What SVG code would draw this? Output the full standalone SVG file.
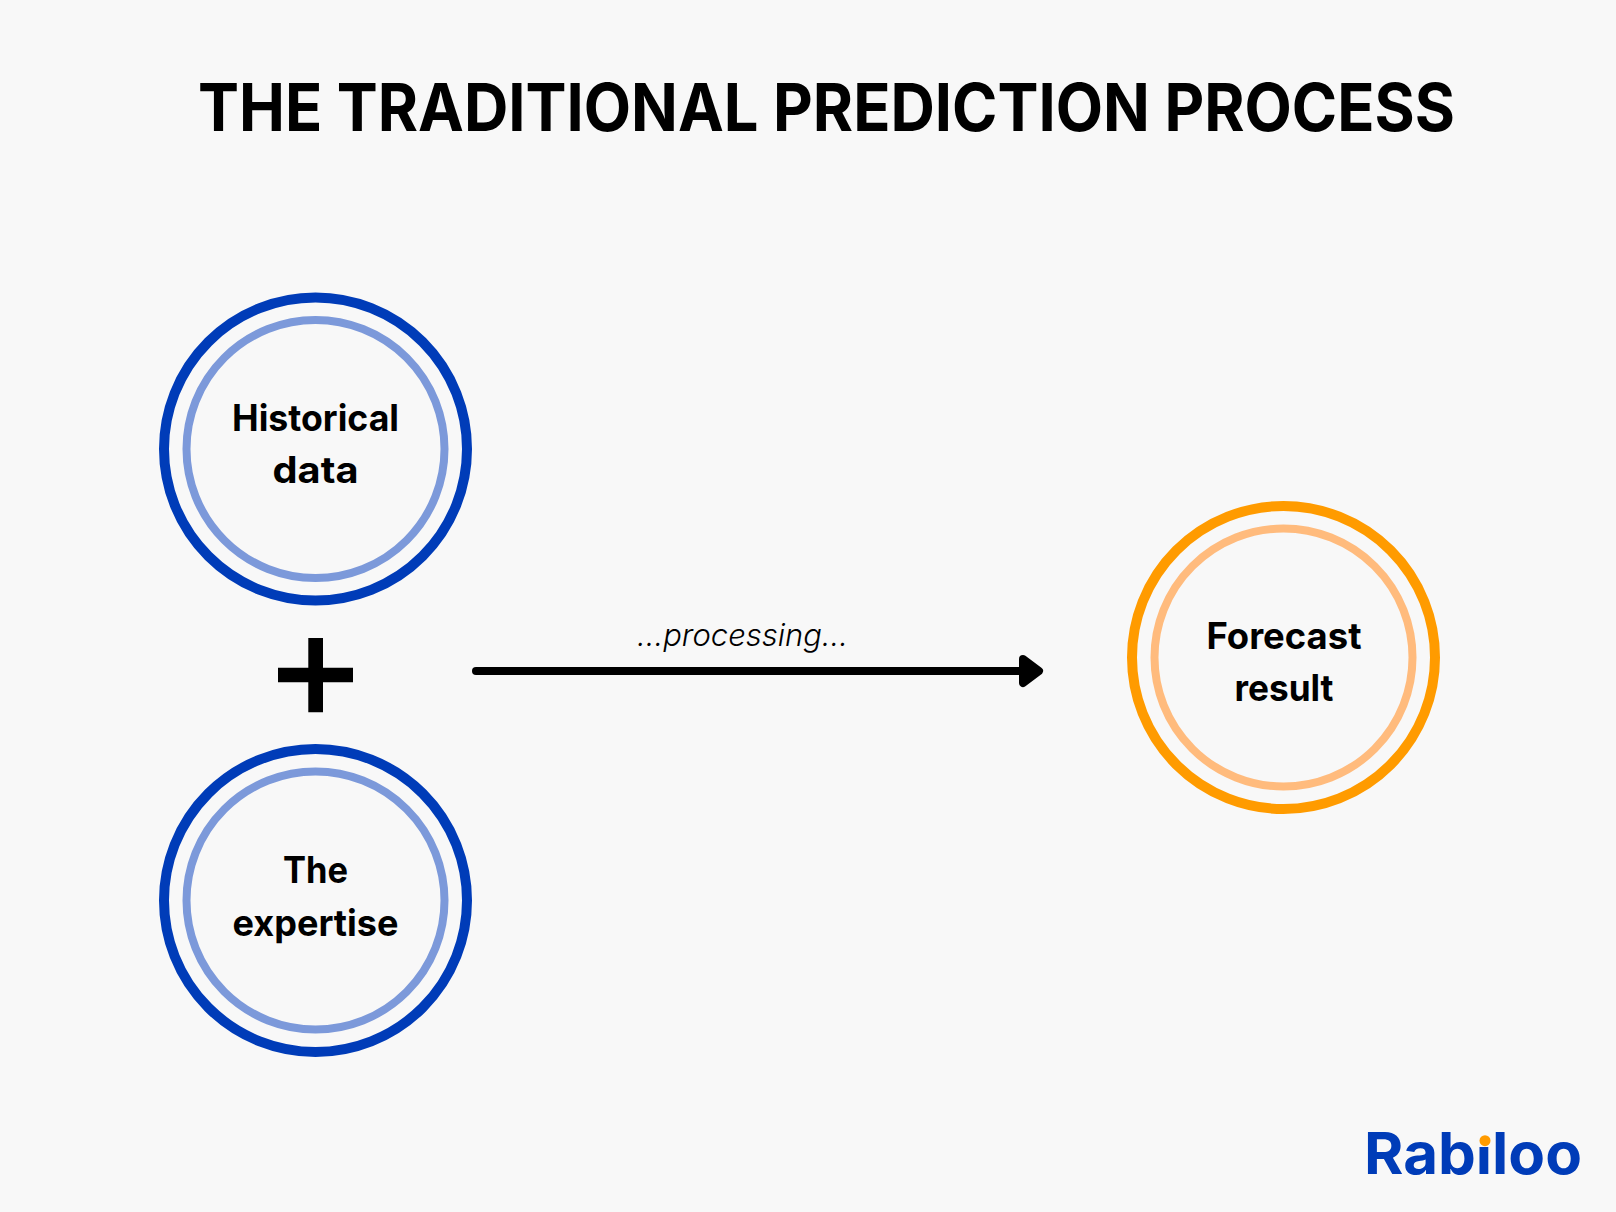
<svg xmlns="http://www.w3.org/2000/svg" width="1616" height="1212" viewBox="0 0 1616 1212">
<style>
text{font-family:"Inter","Liberation Sans",sans-serif;fill:#000;text-anchor:middle}
.t{font-size:37px;font-weight:700}
.o{fill:none;stroke-width:10}
.i{fill:none;stroke-width:8}
.b .o{stroke:#003cb8}.b .i{stroke:#7c99da}
.f .o{stroke:#ff9b00}.f .i{stroke:#ffbb7d}
</style>
<rect width="1616" height="1212" fill="#f8f8f8"/>
<text id="title" x="826.5" y="131" font-size="66" font-weight="700" textLength="1257" lengthAdjust="spacingAndGlyphs">THE TRADITIONAL PREDICTION PROCESS</text>
<g id="historical-data" class="b"><circle class="o" cx="315.5" cy="449" r="151.5"/><circle class="i" cx="315.5" cy="449" r="129"/><text class="t" x="315.5" y="431" textLength="167" lengthAdjust="spacingAndGlyphs">Historical</text><text class="t" x="315.5" y="483" textLength="86" lengthAdjust="spacingAndGlyphs">data</text></g>
<g id="plus"><path d="M308.3 638H323V667.7H353V682.3H323V712.3H308.3V682.3H278V667.7H308.3Z" fill="#000"/></g>
<g id="expertise" class="b"><circle class="o" cx="315.5" cy="900.5" r="151.5"/><circle class="i" cx="315.5" cy="900.5" r="129"/><text class="t" x="315.5" y="883" textLength="65" lengthAdjust="spacingAndGlyphs">The</text><text class="t" x="315.5" y="935.5" textLength="166" lengthAdjust="spacingAndGlyphs">expertise</text></g>
<g id="forecast-result" class="f"><circle class="o" cx="1283.5" cy="657.5" r="151.5"/><circle class="i" cx="1283.5" cy="657.5" r="129"/><text class="t" x="1284" y="648.5" textLength="155" lengthAdjust="spacingAndGlyphs">Forecast</text><text class="t" x="1284" y="701" textLength="99" lengthAdjust="spacingAndGlyphs">result</text></g>
<g id="connectors">
<line x1="476" y1="671" x2="1030" y2="671" stroke="#000" stroke-width="8" stroke-linecap="round"/>
<path d="M1023 659L1039 671L1023 683Z" fill="#000" stroke="#000" stroke-width="8" stroke-linejoin="round"/>
</g>
<text id="edge-label" x="742.5" y="646" font-size="31" font-style="italic" font-weight="300" textLength="211" lengthAdjust="spacingAndGlyphs">...processing...</text>
<g id="logo"><text x="1473" y="1174.3" font-size="58" font-weight="700" style="fill:#003cb8" textLength="218" lengthAdjust="spacingAndGlyphs">Rabiloo</text><rect x="1479" y="1126" width="12" height="21" fill="#f8f8f8"/><circle cx="1485" cy="1140.7" r="5.5" fill="#ff9b00"/></g>
</svg>
